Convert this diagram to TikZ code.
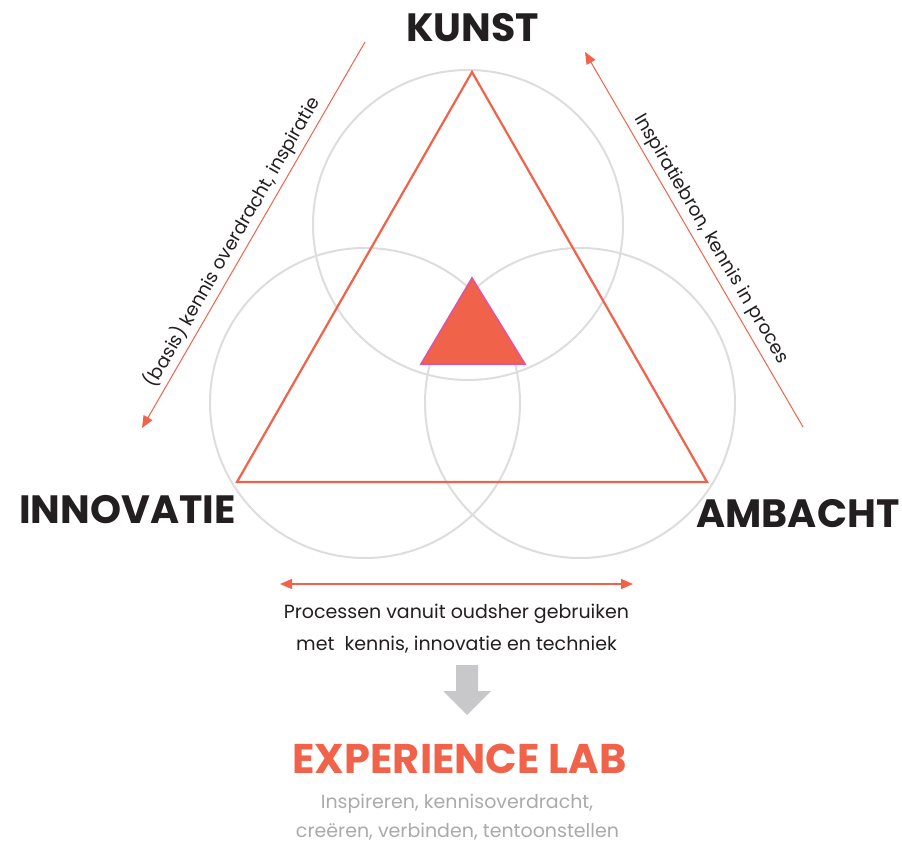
\documentclass[tikz,border=0pt]{standalone}
\usepackage{fontspec}
\setmainfont{Poppins}
\usetikzlibrary{arrows.meta}
\definecolor{coral}{RGB}{240,99,74}
\definecolor{ringgrey}{RGB}{221,221,221}
\definecolor{ink}{RGB}{35,31,32}
\definecolor{pinkedge}{RGB}{222,84,160}
\definecolor{arrowgrey}{RGB}{200,200,202}
\definecolor{textgrey}{RGB}{170,170,170}
\begin{document}
\begin{tikzpicture}[x=1pt,y=-1pt,
  ring/.style={draw=ringgrey,line width=2pt},
  bigtri/.style={draw=coral,line width=2.2pt,line join=miter},
  smalltri/.style={fill=coral,draw=pinkedge,line width=1.6pt,line join=miter},
  flow/.style={draw=coral,line width=1pt,-{Triangle[length=12pt,width=10pt]}},
  flowboth/.style={draw=coral,line width=1.2pt,{Triangle[length=12pt,width=10pt]}-{Triangle[length=12pt,width=10pt]}},
  heading/.style={text=ink,font=\fontsize{39.5}{39.5}\selectfont\bfseries,anchor=base,inner sep=0pt},
  lablab/.style={text=ink,font=\fontsize{18.5}{18.5}\selectfont,inner sep=0pt},
  bodytext/.style={text=ink,font=\fontsize{19}{19}\selectfont,anchor=base,inner sep=0pt},
  greytext/.style={text=textgrey,font=\fontsize{19}{19}\selectfont,anchor=base,inner sep=0pt},
  labtitle/.style={text=coral,font=\fontsize{41.5}{41.5}\selectfont\bfseries,anchor=base,inner sep=0pt}]
\useasboundingbox (0,0) rectangle (902,842);
% circles
\draw[ring] (468,225) circle[radius=155pt];
\draw[ring] (365,403) circle[radius=155pt];
\draw[ring] (580,403) circle[radius=155pt];
% big triangle
\coordinate (top) at (472,72);
\coordinate (bl) at (237,482);
\coordinate (br) at (707,482);
\draw[bigtri] (top) -- (bl) -- (br) -- cycle;
% small triangle
\coordinate (stop) at (472,278);
\coordinate (sbl) at (421,364);
\coordinate (sbr) at (525,364);
\draw[smalltri] (stop) -- (sbl) -- (sbr) -- cycle;
% headings
\node[heading] (kunst) at (472.5,42) {KUNST};
\node[heading] (innovatie) at (127.5,523) {INNOVATIE};
\node[heading] (ambacht) at (798,527) {AMBACHT};
% side arrows
\coordinate (la1) at (365,42);
\coordinate (la2) at (142,428);
\draw[flow] (la1) -- (la2);
\coordinate (ra1) at (803,427);
\coordinate (ra2) at (585,52);
\draw[flow] (ra1) -- (ra2);
\node[lablab,rotate=60] (leftlab) at (232,242) {(basis) kennis overdracht, inspiratie};
\node[lablab,rotate=-59.5] (rightlab) at (711,239) {Inspiratiebron, kennis in proces};
% bottom arrow
\coordinate (ha1) at (280,584);
\coordinate (ha2) at (633,584);
\draw[flowboth] (ha1) -- (ha2);
\node[bodytext] (proc1) at (456.5,618) {Processen vanuit oudsher gebruiken};
\node[bodytext] (proc2) at (456.5,650) {met\ \ kennis, innovatie en techniek};
% grey block arrow
\fill[arrowgrey] (456,665) -- (478,665) -- (478,691) -- (491,691) -- (467,715) -- (443,691) -- (456,691) -- cycle;
\node[labtitle] (lab) at (459.5,773) {EXPERIENCE LAB};
\node[greytext] (g1) at (457,808) {Inspireren, kennisoverdracht,};
\node[greytext] (g2) at (457.5,837) {creëren, verbinden, tentoonstellen};
\end{tikzpicture}
\end{document}
